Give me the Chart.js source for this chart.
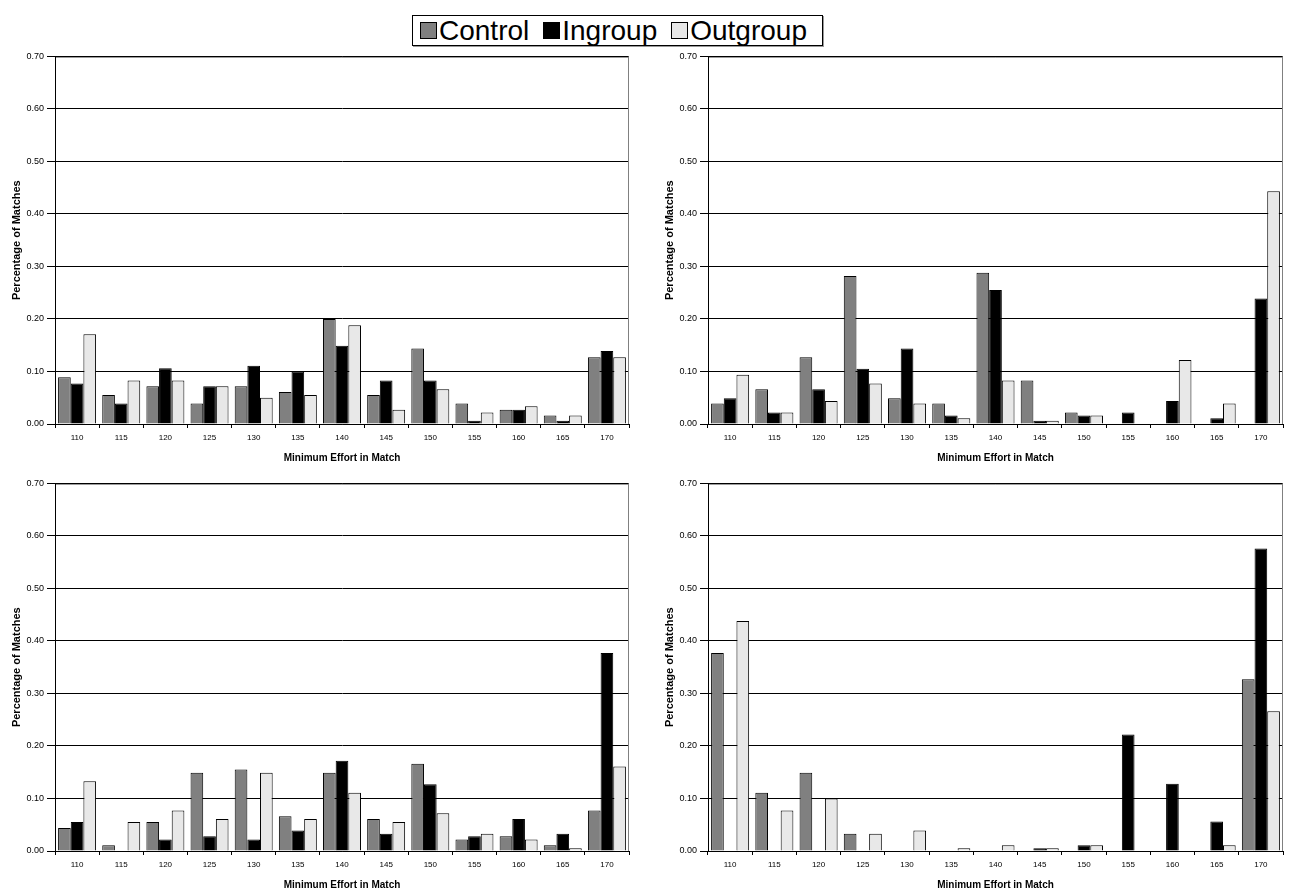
<!DOCTYPE html>
<html>
<head>
<meta charset="utf-8">
<script src="https://cdn.jsdelivr.net/npm/chart.js@4.4.1/dist/chart.umd.min.js"></script>
<style>
  html, body { margin:0; padding:0; background:#fff; width:1291px; height:893px; overflow:hidden; font-family:"Liberation Sans", Arial, sans-serif; }
  .cv { position:absolute; }
  #legend { position:absolute; left:412px; top:15px; width:409px; height:29px; border:1px solid #000; box-shadow:1px 1px 0 #999; background:#fff; display:flex; align-items:center; font-size:28px; line-height:29px; color:#000; white-space:nowrap; }
  .item { display:flex; align-items:center; margin-left:14px; }
  .item:first-child { margin-left:7px; }
  .sw { width:15px; height:15px; border:1.5px solid #000; margin-right:2px; }
</style>
</head>
<body>
<div id="legend">
  <div class="item"><span class="sw" style="background:#808080"></span>Control</div>
  <div class="item"><span class="sw" style="background:#000"></span>Ingroup</div>
  <div class="item"><span class="sw" style="background:#e8e8e8"></span>Outgroup</div>
</div>
<canvas id="c1" class="cv" style="left:0px;top:48px;" width="640" height="416"></canvas>
<canvas id="c2" class="cv" style="left:653px;top:48px;" width="638" height="416"></canvas>
<canvas id="c3" class="cv" style="left:0px;top:475px;" width="640" height="416"></canvas>
<canvas id="c4" class="cv" style="left:653px;top:475px;" width="638" height="416"></canvas>
<script>
const categories = ["110","115","120","125","130","135","140","145","150","155","160","165","170"];
const seriesNames = ["Control","Ingroup","Outgroup"];
const seriesColors = ["#808080","#000000","#e8e8e8"];
const yTicks = [0.00,0.10,0.20,0.30,0.40,0.50,0.60,0.70];

// Panel 1 (top-left)
const p1Control  = [0.089,0.055,0.072,0.039,0.072,0.061,0.200,0.055,0.144,0.039,0.027,0.016,0.127];
const p1Ingroup  = [0.077,0.039,0.106,0.072,0.111,0.100,0.149,0.083,0.083,0.006,0.027,0.006,0.139];
const p1Outgroup = [0.171,0.083,0.083,0.072,0.050,0.055,0.188,0.027,0.066,0.022,0.034,0.016,0.127];
// Panel 2 (top-right)
const p2Control  = [0.039,0.066,0.127,0.282,0.049,0.039,0.288,0.083,0.022,0,0,0,0];
const p2Ingroup  = [0.049,0.022,0.066,0.105,0.144,0.016,0.255,0.006,0.016,0.022,0.044,0.011,0.239];
const p2Outgroup = [0.094,0.022,0.044,0.077,0.039,0.011,0.083,0.006,0.016,0,0.122,0.039,0.443];
// Panel 3 (bottom-left)
const p3Control  = [0.044,0.011,0.055,0.149,0.155,0.066,0.149,0.061,0.166,0.022,0.028,0.011,0.077];
const p3Ingroup  = [0.055,0,0.022,0.028,0.022,0.039,0.172,0.033,0.127,0.028,0.061,0.033,0.377];
const p3Outgroup = [0.133,0.055,0.077,0.061,0.149,0.061,0.111,0.055,0.072,0.033,0.022,0.005,0.161];
// Panel 4 (bottom-right)
const p4Control  = [0.377,0.111,0.149,0.033,0,0,0,0,0,0,0,0,0.327];
const p4Ingroup  = [0,0,0,0,0,0,0,0.005,0.011,0.222,0.128,0.056,0.576];
const p4Outgroup = [0.438,0.077,0.100,0.033,0.039,0.005,0.011,0.005,0.011,0,0,0.011,0.266];

const FONT = "'Liberation Sans', Arial, sans-serif";

const borderPlugin = {
  id: 'frame',
  afterDraw(chart) {
    const a = chart.chartArea, ctx = chart.ctx;
    ctx.save();
    ctx.strokeStyle = '#000';
    ctx.lineWidth = 1;
    ctx.beginPath();
    ctx.moveTo(a.left, a.top + 0.5);
    ctx.lineTo(a.right - 0.5, a.top + 0.5);
    ctx.stroke();
    ctx.strokeStyle = '#808080';
    ctx.beginPath();
    ctx.moveTo(a.right - 0.5, a.top);
    ctx.lineTo(a.right - 0.5, a.bottom);
    ctx.stroke();
    ctx.restore();
  }
};

function makeChart(id, vals, padRight) {
  const datasets = vals.map((v, i) => ({
    label: seriesNames[i],
    data: v,
    backgroundColor: seriesColors[i],
    borderColor: '#000',
    borderWidth: 1,
    barPercentage: 1.0,
    categoryPercentage: 0.86
  }));
  return new Chart(document.getElementById(id), {
    type: 'bar',
    data: { labels: categories, datasets },
    plugins: [borderPlugin],
    options: {
      responsive: false,
      animation: false,
      layout: { padding: { top: 4, right: padRight, bottom: 0, left: 0 } },
      plugins: { legend: { display: false }, tooltip: { enabled: false } },
      scales: {
        x: {
          offset: true,
          grid: { offset: true, drawOnChartArea: false, color: '#000', tickLength: 4, lineWidth: 1 },
          border: { display: true, color: '#000', width: 1 },
          ticks: { font: { family: FONT, size: 8 }, color: '#000', padding: 5, maxRotation: 0 },
          title: { display: true, text: 'Minimum Effort in Match', font: { family: FONT, size: 10, weight: 'bold' }, color: '#000', padding: { top: 5, bottom: 0 } },
          afterFit(s) { s.height = 40; }
        },
        y: {
          min: 0, max: 0.7,
          afterBuildTicks(s) { s.ticks = yTicks.map(v => ({ value: v })); },
          grid: { color: '#000', lineWidth: 1, tickLength: 8 },
          border: { display: true, color: '#000', width: 1 },
          ticks: { font: { family: FONT, size: 9 }, color: '#000', padding: 3, callback: v => Number(v).toFixed(2) },
          title: { display: true, text: 'Percentage of Matches', font: { family: FONT, size: 11, weight: 'bold' }, color: '#000', padding: { top: 10, bottom: 4 } },
          afterFit(s) { s.width = 55; }
        }
      }
    }
  });
}

makeChart('c1', [p1Control, p1Ingroup, p1Outgroup], 11);
makeChart('c2', [p2Control, p2Ingroup, p2Outgroup], 8);
makeChart('c3', [p3Control, p3Ingroup, p3Outgroup], 11);
makeChart('c4', [p4Control, p4Ingroup, p4Outgroup], 8);
</script>
</body>
</html>
